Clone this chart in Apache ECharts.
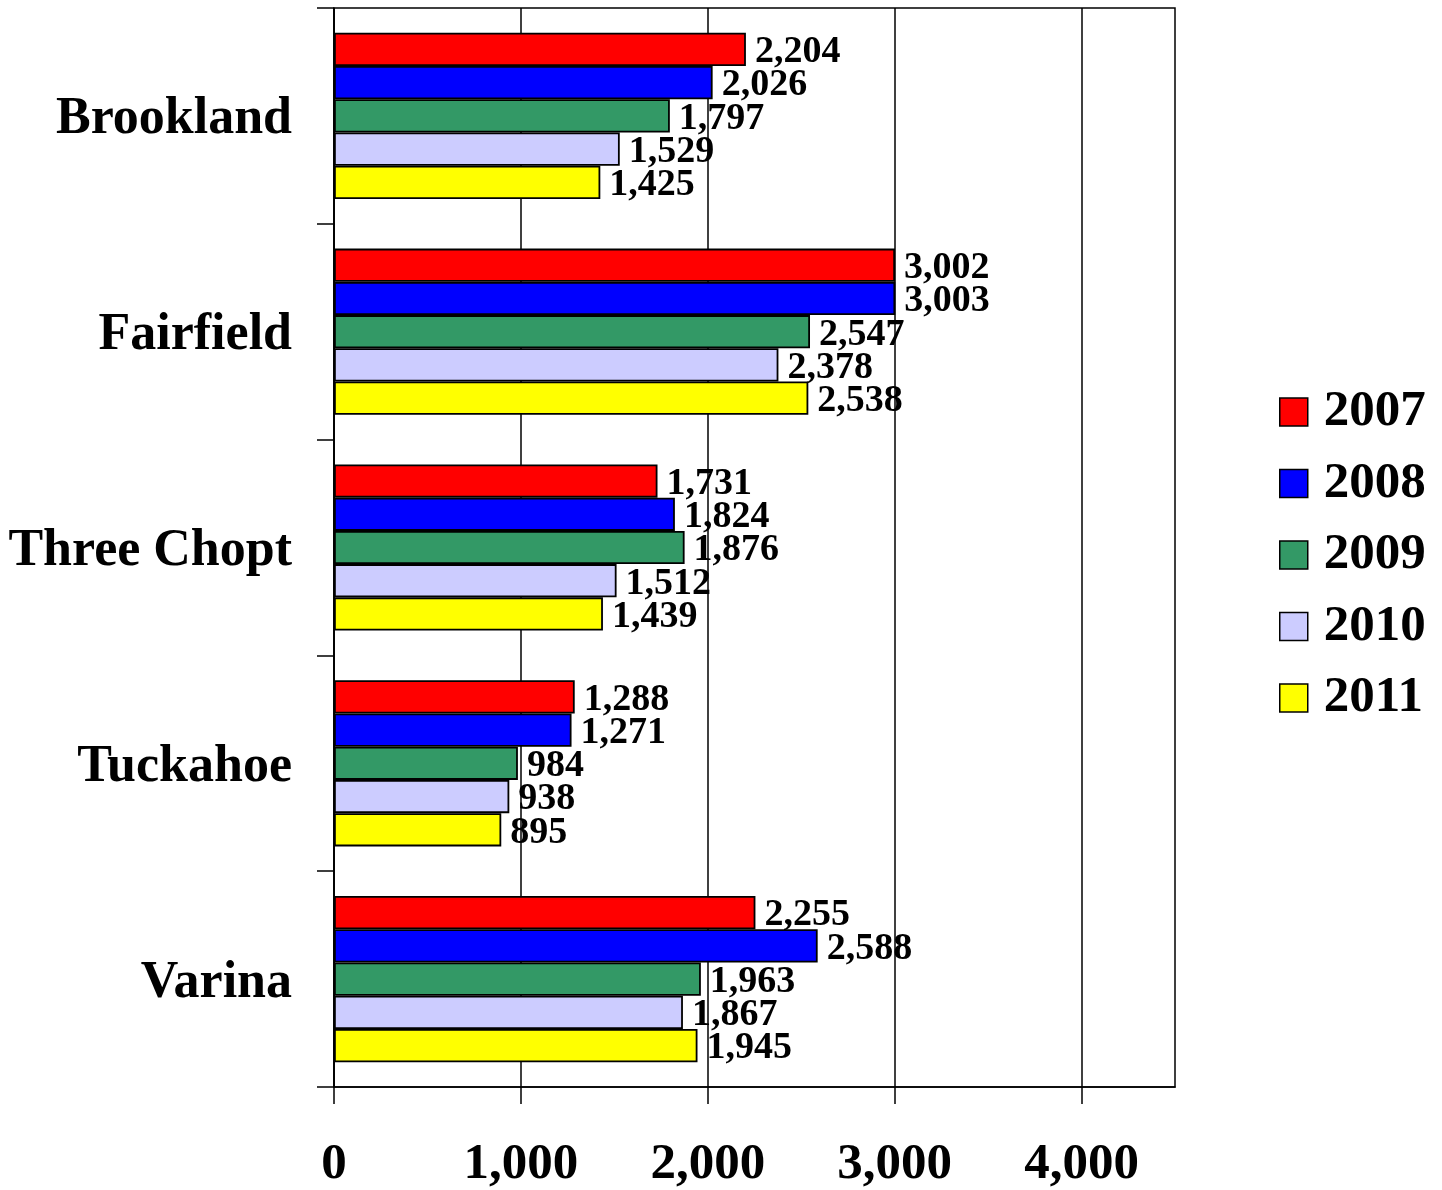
<!DOCTYPE html>
<html>
<head>
<meta charset="utf-8">
<script src="https://cdn.jsdelivr.net/npm/echarts@6/dist/echarts.min.js"></script>
<style>html,body{margin:0;padding:0;background:#fff}#c{width:1442px;height:1190px}</style>
</head>
<body>
<div id="c"></div>
<script>
const categories = ['Brookland', 'Fairfield', 'Three Chopt', 'Tuckahoe', 'Varina'];
const years = ['2007', '2008', '2009', '2010', '2011'];
const v2007 = [2204, 3002, 1731, 1288, 2255];
const v2008 = [2026, 3003, 1824, 1271, 2588];
const v2009 = [1797, 2547, 1876, 984, 1963];
const v2010 = [1529, 2378, 1512, 938, 1867];
const v2011 = [1425, 2538, 1439, 895, 1945];
const xTicks = [0, 1000, 2000, 3000, 4000];
const colors = ['#FF0000', '#0000FF', '#339966', '#CCCCFF', '#FFFF00'];
const seriesValues = [v2007, v2008, v2009, v2010, v2011];

const FONT = "'Liberation Serif', 'Times New Roman', serif";
const fmt = v => Number(v).toLocaleString('en-US');

const chart = echarts.init(document.getElementById('c'), null, {renderer: 'canvas'});
chart.setOption({
  animation: false,
  backgroundColor: '#fff',
  textStyle: {fontFamily: FONT, fontWeight: 'bold', color: '#000'},
  grid: {left: 334, top: 8, right: 267, bottom: 103, show: true, borderColor: '#000', borderWidth: 1.5, backgroundColor: 'transparent'},
  legend: {
    orient: 'vertical', left: 1279, top: 384, padding: 0,
    icon: 'rect', itemWidth: 28, itemHeight: 28, itemGap: 15.5,
    data: years,
    itemStyle: {borderColor: '#000', borderWidth: 1.5},
    textStyle: {fontFamily: FONT, fontWeight: 'bold', fontSize: 51, color: '#000', lineHeight: 56, padding: [0, 0, 0, 11]}
  },
  xAxis: {
    type: 'value', min: 0, max: 4500, interval: 1000,
    axisLine: {show: true, lineStyle: {color: '#000', width: 1.5}},
    axisTick: {show: true, length: 17, lineStyle: {color: '#000', width: 1.5}, customValues: xTicks},
    axisLabel: {customValues: xTicks, formatter: v => fmt(v), fontFamily: FONT, fontWeight: 'bold', fontSize: 51, color: '#000', margin: 52},
    splitLine: {show: true, lineStyle: {color: '#000', width: 1.5}}
  },
  yAxis: {
    type: 'category', data: categories, inverse: true,
    axisLine: {show: true, lineStyle: {color: '#000', width: 1.5}},
    axisTick: {show: true, length: 17, lineStyle: {color: '#000', width: 1.5}},
    axisLabel: {
      formatter: v => '{c|' + v + '}',
      margin: 42,
      rich: {c: {fontFamily: FONT, fontWeight: 'bold', fontSize: 52, color: '#000', padding: [8, 0, 0, 0]}}
    }
  },
  series: years.map((y, i) => ({
    name: y, type: 'bar', data: seriesValues[i],
    barGap: '0%', barCategoryGap: '23%',
    itemStyle: {color: colors[i], borderColor: '#000', borderWidth: 1.8},
    label: {show: true, position: 'right', distance: 9, offset: [0, 3], formatter: p => fmt(p.value),
      fontFamily: FONT, fontWeight: 'bold', fontSize: 38, color: '#000'}
  }))
});
</script>
</body>
</html>
